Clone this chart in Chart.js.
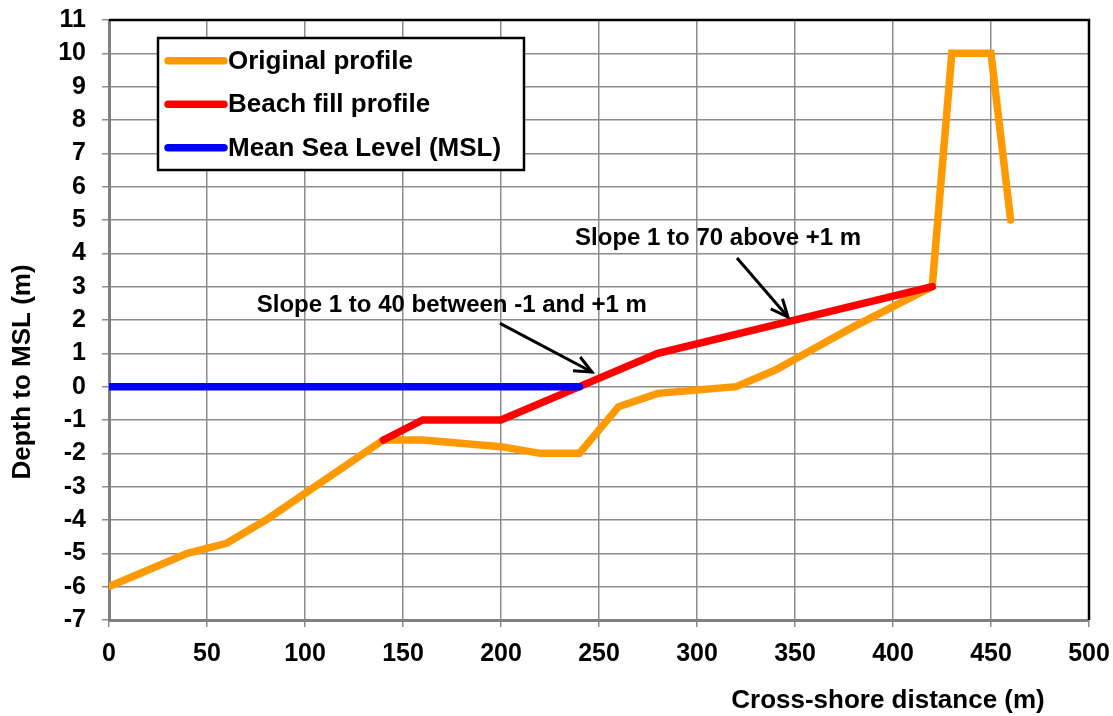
<!DOCTYPE html>
<html><head><meta charset="utf-8">
<script src="https://cdn.jsdelivr.net/npm/chart.js@4.4.1/dist/chart.umd.min.js"></script>
<style>html,body{margin:0;padding:0;background:#fff}#wrap{width:1113px;height:716px}</style>
</head><body><div id="wrap"><canvas id="c" width="1113" height="716"></canvas></div>
<script>
// Data
const originalX = [0, 20, 40, 60, 80, 100, 140, 160, 200, 220, 240, 260, 280, 320, 340, 360, 380, 400, 420, 430, 450, 460];
const originalY = [-6, -5.5, -5, -4.7, -4, -3.2, -1.6, -1.6, -1.8, -2, -2, -0.6, -0.2, 0, 0.5, 1.15, 1.8, 2.4, 3, 10, 10, 5];
const fillX = [140, 160, 200, 240, 280, 420];
const fillY = [-1.6, -1, -1, 0, 1, 3];
const mslX = [0, 240];
const mslY = [0, 0];
const seriesLabels = ['Original profile', 'Beach fill profile', 'Mean Sea Level (MSL)'];
const xTicks = [0, 50, 100, 150, 200, 250, 300, 350, 400, 450, 500];
const yTicks = [-7, -6, -5, -4, -3, -2, -1, 0, 1, 2, 3, 4, 5, 6, 7, 8, 9, 10, 11];
const xTitle = 'Cross-shore distance (m)';
const yTitle = 'Depth to MSL (m)';
const annoTexts = ['Slope 1 to 40 between -1 and +1 m', 'Slope 1 to 70 above +1 m'];
const annoTextPos = [[75.4, 2.24], [237.8, 4.25]];
const arrowTail = [[199.5, 1.9], [320.4, 3.86]];
const arrowHead = [[246.4, 0.44], [346.4, 2.09]];

const pts = (xs, ys) => xs.map((x, i) => ({x, y: ys[i]}));
const FONT = '"Liberation Sans", Arial, sans-serif';

const overlay = {
  id: 'overlay',
  afterDraw(chart) {
    const ctx = chart.ctx, a = chart.chartArea;
    const xs = chart.scales.x, ys = chart.scales.y;
    ctx.save();
    // top & right border
    ctx.strokeStyle = '#000'; ctx.lineWidth = 2.5;
    ctx.beginPath(); ctx.moveTo(a.left, a.top); ctx.lineTo(a.right, a.top); ctx.lineTo(a.right, a.bottom); ctx.stroke();
    // annotations
    ctx.fillStyle = '#000';
    ctx.font = 'bold 24px ' + FONT;
    ctx.textAlign = 'left'; ctx.textBaseline = 'alphabetic';
    annoTexts.forEach((t, i) => {
      ctx.fillText(t, xs.getPixelForValue(annoTextPos[i][0]), ys.getPixelForValue(annoTextPos[i][1]));
      const x0 = xs.getPixelForValue(arrowTail[i][0]), y0 = ys.getPixelForValue(arrowTail[i][1]);
      const x1 = xs.getPixelForValue(arrowHead[i][0]), y1 = ys.getPixelForValue(arrowHead[i][1]);
      ctx.strokeStyle = '#000'; ctx.lineWidth = 3; ctx.lineCap = 'butt'; ctx.lineJoin = 'miter';
      ctx.beginPath(); ctx.moveTo(x0, y0); ctx.lineTo(x1, y1); ctx.stroke();
      const ang = Math.atan2(y1 - y0, x1 - x0), L = 19, w = 0.42;
      ctx.beginPath();
      ctx.moveTo(x1 - L * Math.cos(ang - w), y1 - L * Math.sin(ang - w));
      ctx.lineTo(x1, y1);
      ctx.lineTo(x1 - L * Math.cos(ang + w), y1 - L * Math.sin(ang + w));
      ctx.stroke();
    });
    // legend
    const lx = 158, ly = 38, lw = 366, lh = 132;
    ctx.fillStyle = '#fff'; ctx.fillRect(lx, ly, lw, lh);
    ctx.strokeStyle = '#000'; ctx.lineWidth = 2.5; ctx.strokeRect(lx, ly, lw, lh);
    ctx.font = 'bold 26px ' + FONT;
    chart.data.datasets.forEach((ds, i) => {
      const y = 60.7 + i * 43.5;
      ctx.strokeStyle = ds.borderColor; ctx.lineWidth = 7.5; ctx.lineCap = 'round';
      ctx.beginPath(); ctx.moveTo(168, y); ctx.lineTo(224, y); ctx.stroke();
      ctx.fillStyle = '#000'; ctx.textAlign = 'left'; ctx.textBaseline = 'middle';
      ctx.fillText(ds.label, 228, y + 1);
    });
    // axis titles
    ctx.font = 'bold 26px ' + FONT; ctx.textAlign = 'center'; ctx.textBaseline = 'middle'; ctx.fillStyle = '#000';
    ctx.fillText(xTitle, 888, 701);
    ctx.translate(23, 372); ctx.rotate(-Math.PI / 2);
    ctx.fillText(yTitle, 0, 0);
    ctx.restore();
  }
};

const commonDs = {borderWidth: 7.5, pointRadius: 0, pointHoverRadius: 0, fill: false, tension: 0, borderCapStyle: 'round', borderJoinStyle: 'miter'};

new Chart(document.getElementById('c'), {
  type: 'line',
  data: {
    datasets: [
      Object.assign({label: seriesLabels[0], data: pts(originalX, originalY), borderColor: '#FF9900', order: 3}, commonDs),
      Object.assign({label: seriesLabels[1], data: pts(fillX, fillY), borderColor: '#FF0000', order: 2}, commonDs),
      Object.assign({label: seriesLabels[2], data: pts(mslX, mslY), borderColor: '#0000FF', order: 1}, commonDs)
    ]
  },
  options: {
    responsive: false, animation: false,
    layout: {padding: {left: 0, right: 24, top: 20, bottom: 0}},
    plugins: {legend: {display: false}, tooltip: {enabled: false}},
    scales: {
      x: {
        type: 'linear', min: 0, max: 500,
        afterBuildTicks: s => { s.ticks = xTicks.map(v => ({value: v})); },
        afterFit: s => { s.height = 96; s.paddingLeft = 0; s.paddingRight = 0; },
        ticks: {color: '#000', font: {family: FONT, weight: 'bold', size: 25}, padding: 12, maxRotation: 0, autoSkip: false},
        grid: {color: '#8c8c8c', lineWidth: 1.5, tickLength: 7, tickColor: '#8c8c8c'},
        border: {color: '#808080', width: 3}
      },
      y: {
        type: 'linear', min: -7, max: 11,
        afterBuildTicks: s => { s.ticks = yTicks.map(v => ({value: v})); },
        afterFit: s => { s.width = 109; s.paddingTop = 0; s.paddingBottom = 0; },
        ticks: {color: '#000', font: {family: FONT, weight: 'bold', size: 25}, padding: 16, autoSkip: false},
        grid: {color: '#8c8c8c', lineWidth: 1.5, tickLength: 7, tickColor: '#8c8c8c'},
        border: {color: '#808080', width: 3}
      }
    }
  },
  plugins: [overlay]
});
</script></body></html>
